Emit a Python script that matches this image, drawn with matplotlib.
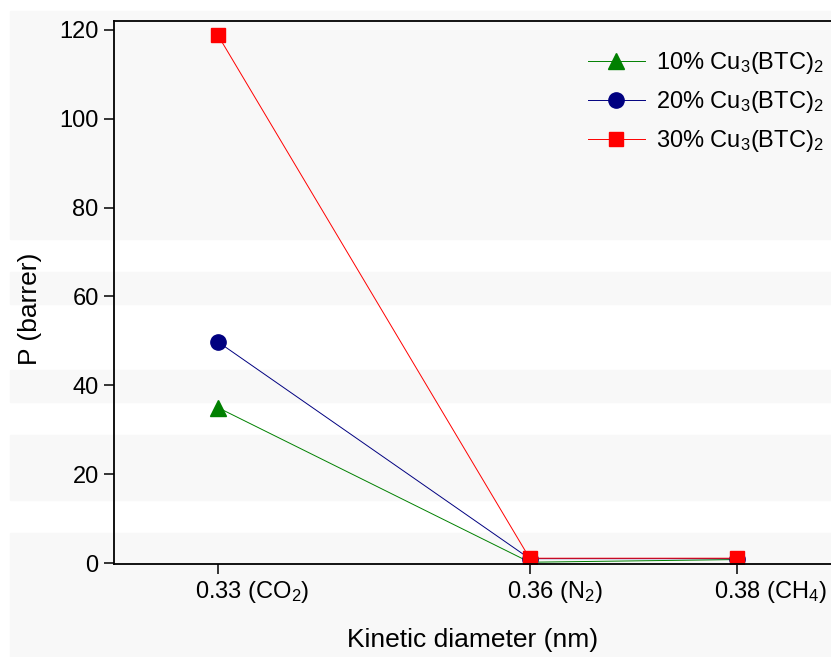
import matplotlib
matplotlib.use("Agg")
import matplotlib.pyplot as plt
from matplotlib.patches import Rectangle
from matplotlib.transforms import ScaledTranslation

plt.rcParams['font.family'] = ['Liberation Sans', 'DejaVu Sans']
plt.rcParams['mathtext.fontset'] = 'custom'
plt.rcParams['mathtext.rm'] = 'Liberation Sans'
plt.rcParams['mathtext.it'] = 'Liberation Sans'

# kinetic diameter of the gases (nm)
diam = [0.33, 0.36, 0.38]
tick_labels = [r'0.33 (CO$\mathregular{_2}$)', r'0.36 (N$\mathregular{_2}$)', r'0.38 (CH$\mathregular{_4}$)']

# permeability (barrer)
p10 = [35.0, 0.2, 0.8]
p20 = [49.8, 1.0, 1.0]
p30 = [118.8, 1.1, 1.1]

labels = [r'10% Cu$\mathregular{_3}$(BTC)$\mathregular{_2}$',
          r'20% Cu$\mathregular{_3}$(BTC)$\mathregular{_2}$',
          r'30% Cu$\mathregular{_3}$(BTC)$\mathregular{_2}$']

W, H = 831, 657
fig = plt.figure(figsize=(W / 100, H / 100), dpi=100)

# faint gray background bands (pixel rows top..bottom)
bands = [(11, 239), (272, 304), (370, 402), (435, 500), (533, 657)]
for top, bot in bands:
    fig.patches.append(Rectangle((10 / W, 1 - bot / H), 1, (bot - top) / H,
                                 transform=fig.transFigure, color='#f8f8f8',
                                 zorder=-10))

ax = fig.add_axes([114 / W, 1 - 564 / H, 1 - 114 / W, (564 - 21) / H])
ax.set_facecolor('none')

ax.plot(diam, p10, '-', color='#008000', lw=0.7, marker='^', ms=12,
        mec='#008000', mfc='#008000', label=labels[0])
ax.plot(diam, p20, '-', color='#000080', lw=0.7, marker='o', ms=11,
        mec='#000080', mfc='#000080', label=labels[1])
ax.plot(diam, p30, '-', color='#ff0000', lw=0.7, marker='s', ms=9.5,
        mec='#ff0000', mfc='#ff0000', label=labels[2])

ax.set_xlim(0.32, 0.389)
ax.set_ylim(-0.2, 122)
ax.set_xticks(diam)
ax.set_xticklabels(tick_labels)
ax.set_yticks([0, 20, 40, 60, 80, 100, 120])

for s in ['left', 'bottom', 'top']:
    ax.spines[s].set_linewidth(1.3)
ax.spines['right'].set_visible(False)
ax.tick_params(direction='out', length=7, width=1.1, labelsize=17, pad=4)

# number centred on the tick, gas name hanging to the right
shift = ScaledTranslation(-23 / 100, 0, fig.dpi_scale_trans)
for lab in ax.get_xticklabels():
    lab.set_ha('left')
    lab.set_transform(lab.get_transform() + shift)

ax.set_xlabel('Kinetic diameter (nm)', fontsize=19)
ax.xaxis.set_label_coords(0.5, -0.118)
ax.set_ylabel('P (barrer)', fontsize=19)
ax.yaxis.set_label_coords(-0.1, 0.47)

leg = ax.legend(loc='upper right', bbox_to_anchor=(1.02, 0.985), frameon=False,
                fontsize=17, handlelength=2.4, handletextpad=0.5,
                labelspacing=0.55)

fig.savefig('out.png', dpi=100)
